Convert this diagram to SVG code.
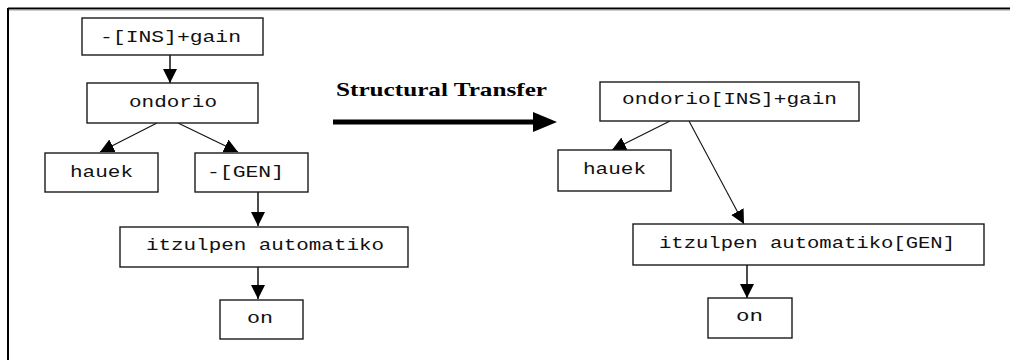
<svg xmlns="http://www.w3.org/2000/svg" width="1010" height="360" viewBox="0 0 1010 360">
<style>
.box{fill:#fff;stroke:#1a1a1a;stroke-width:1.4}
.t{font-family:"Liberation Mono","Courier New",monospace;font-size:16px;fill:#111}
.c{stroke:#111;stroke-width:1.1;fill:none;marker-end:url(#ah)}
.v{stroke:#111;stroke-width:1.5;fill:none;marker-end:url(#ah)}
</style>
<defs>
<marker id="ah" markerUnits="userSpaceOnUse" markerWidth="16" markerHeight="16" refX="14" refY="7" orient="auto">
<path d="M0,0 L14,7 L0,14 z" fill="#000"/>
</marker>
</defs>
<rect width="1010" height="360" fill="#fff"/>
<g id="frame">
<line x1="8" y1="8.5" x2="1010" y2="8.5" stroke="#000" stroke-width="2"/>
<line x1="1010" y1="10" x2="8" y2="10" stroke="#999" stroke-width="1"/>
<line x1="8" y1="8" x2="8" y2="360" stroke="#000" stroke-width="2"/>
</g>
<g id="connectors">
<line class="v" x1="170" y1="55" x2="170" y2="83"/>
<line class="c" x1="157" y1="123" x2="100" y2="152"/>
<line class="c" x1="178" y1="123" x2="238" y2="152"/>
<line class="v" x1="258" y1="192" x2="258" y2="226"/>
<line class="v" x1="258" y1="267" x2="258" y2="299"/>
<line x1="333" y1="122" x2="536" y2="122" stroke="#000" stroke-width="5"/>
<path d="M533,112 L557,122 L533,132 z" fill="#000"/>
<line class="c" x1="670" y1="121" x2="612" y2="150"/>
<line class="c" x1="689" y1="121" x2="744" y2="224"/>
<line class="v" x1="747" y1="265" x2="747" y2="298"/>
</g>
<g id="label-structural-transfer">
<text x="336" y="96" font-family="'Liberation Serif','Times New Roman',serif" font-weight="bold" font-size="19" textLength="211" lengthAdjust="spacingAndGlyphs" fill="#000">Structural Transfer</text>
</g>
<g id="n-ins-gain">
<rect class="box" x="82" y="18" width="181" height="37"/>
<text class="t" x="100" y="42" textLength="141" lengthAdjust="spacingAndGlyphs">-[INS]+gain</text>
</g>
<g id="n-ondorio">
<rect class="box" x="87" y="83" width="171" height="40"/>
<text class="t" x="129" y="107" textLength="88" lengthAdjust="spacingAndGlyphs">ondorio</text>
</g>
<g id="n-hauek-l">
<rect class="box" x="45" y="153" width="113" height="39"/>
<text class="t" x="70" y="177" textLength="63" lengthAdjust="spacingAndGlyphs">hauek</text>
</g>
<g id="n-gen">
<rect class="box" x="195" y="153" width="113" height="39"/>
<text class="t" x="207" y="177" textLength="77" lengthAdjust="spacingAndGlyphs">-[GEN]</text>
</g>
<g id="n-itzulpen-l">
<rect class="box" x="120" y="227" width="288" height="40"/>
<text class="t" x="146" y="250" textLength="238" lengthAdjust="spacingAndGlyphs">itzulpen automatiko</text>
</g>
<g id="n-on-l">
<rect class="box" x="220" y="300" width="83" height="39"/>
<text class="t" x="247" y="323" textLength="26" lengthAdjust="spacingAndGlyphs">on</text>
</g>
<g id="n-ondorio-ins">
<rect class="box" x="600" y="82" width="259" height="39"/>
<text class="t" x="622" y="104" textLength="215" lengthAdjust="spacingAndGlyphs">ondorio[INS]+gain</text>
</g>
<g id="n-hauek-r">
<rect class="box" x="558" y="150" width="113" height="41"/>
<text class="t" x="583" y="174" textLength="63" lengthAdjust="spacingAndGlyphs">hauek</text>
</g>
<g id="n-itzulpen-r">
<rect class="box" x="633" y="224" width="351" height="41"/>
<text class="t" x="659" y="248" textLength="296" lengthAdjust="spacingAndGlyphs">itzulpen automatiko[GEN]</text>
</g>
<g id="n-on-r">
<rect class="box" x="708" y="298" width="84" height="40"/>
<text class="t" x="736" y="321" textLength="27" lengthAdjust="spacingAndGlyphs">on</text>
</g>
</svg>
